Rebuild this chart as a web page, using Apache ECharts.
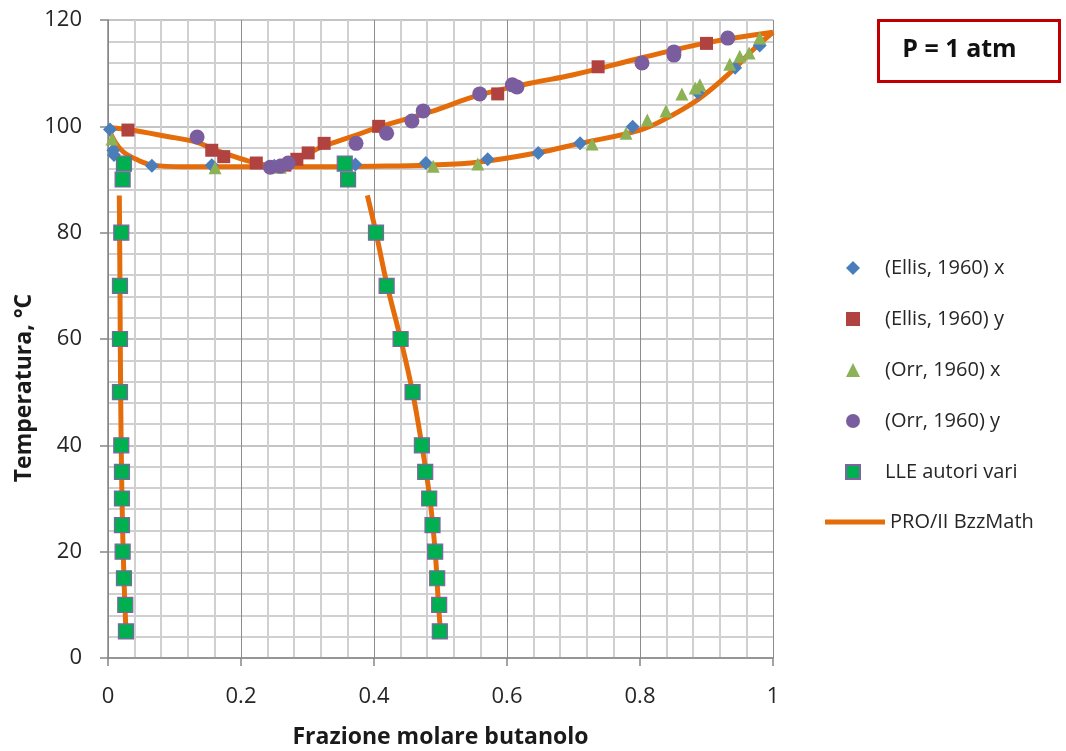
<!DOCTYPE html>
<html>
<head>
<meta charset="utf-8">
<title>Butanolo - acqua, P = 1 atm</title>
<script src="https://cdn.jsdelivr.net/npm/echarts@6/dist/echarts.min.js"></script>
<style>
  html, body { margin: 0; padding: 0; background: #fff; }
  #chart { width: 1066px; height: 751px; }
</style>
</head>
<body>
<div id="chart"></div>
<script>
// dati: [frazione molare butanolo, temperatura °C]
const ellisX = [
    [0.003, 99.4], [0.008, 95.5], [0.009, 94.6], [0.066, 92.6], [0.156, 92.7],
    [0.25, 92.6], [0.372, 92.8], [0.478, 93.1], [0.571, 93.8], [0.647, 95.0],
    [0.710, 96.8], [0.789, 99.9], [0.887, 106.3], [0.943, 111.0], [0.980, 115.2]
]
const ellisY = [
    [0.030, 99.3], [0.156, 95.5], [0.174, 94.3], [0.223, 93.1], [0.266, 92.7],
    [0.284, 93.8], [0.301, 95.0], [0.325, 96.8], [0.407, 100.0], [0.586, 106.1],
    [0.737, 111.2], [0.900, 115.6]
]
const orrX = [
    [0.006, 97.6], [0.161, 92.2], [0.259, 92.3], [0.489, 92.5], [0.556, 92.9],
    [0.728, 96.7], [0.779, 98.7], [0.811, 101.2], [0.839, 102.9], [0.863, 106.1],
    [0.883, 107.2], [0.890, 107.8], [0.935, 111.7], [0.950, 113.2], [0.964, 113.8],
    [0.980, 116.6]
]
const orrY = [
    [0.134, 98.0], [0.244, 92.3], [0.259, 92.5], [0.271, 93.1], [0.373, 96.8],
    [0.419, 98.7], [0.457, 101.0], [0.474, 102.9], [0.559, 106.1], [0.608, 107.8],
    [0.615, 107.4], [0.803, 111.9], [0.851, 114.0], [0.851, 113.4], [0.932, 116.6]
]
const lleData = [
    [0.024, 93], [0.022, 90], [0.020, 80], [0.018, 70], [0.018, 60], [0.018, 50],
    [0.020, 40], [0.021, 35], [0.021, 30], [0.021, 25], [0.022, 20], [0.024, 15],
    [0.026, 10], [0.027, 5],
    [0.356, 93], [0.361, 90], [0.403, 80], [0.419, 70], [0.440, 60], [0.458, 50],
    [0.472, 40], [0.477, 35], [0.483, 30], [0.488, 25], [0.492, 20], [0.495, 15],
    [0.498, 10], [0.499, 5]
]

// curve del modello PRO/II BzzMath
const dewCurve = [
    [0.0, 99.8], [0.03, 99.4], [0.089, 98.1], [0.134, 97.0], [0.156, 95.8],
    [0.188, 94.4], [0.223, 93.1], [0.25, 92.6], [0.266, 92.7], [0.284, 93.7],
    [0.301, 94.9], [0.325, 96.3], [0.37, 98.2], [0.406, 99.8], [0.484, 102.7],
    [0.559, 105.9], [0.635, 108.1], [0.70, 109.7], [0.8, 112.8], [0.9, 115.7],
    [1.0, 117.7]
]
const bubbleCurve = [
    [0.0, 99.8], [0.011, 97.0], [0.023, 95.2], [0.044, 93.7], [0.068, 92.7],
    [0.113, 92.4], [0.2, 92.4], [0.3, 92.4], [0.4, 92.5], [0.48, 92.7],
    [0.559, 93.3], [0.645, 95.0], [0.71, 96.8], [0.8, 99.3], [0.841, 101.6],
    [0.89, 105.3], [0.94, 110.6], [0.97, 114.4], [1.0, 117.7]
]
const lleLeft = [
    [0.017, 87], [0.018, 70], [0.019, 50], [0.021, 30], [0.024, 15], [0.027, 5]
]
const lleRight = [
    [0.390, 87], [0.403, 80], [0.420, 70], [0.440, 60], [0.458, 50], [0.472, 40],
    [0.484, 30], [0.492, 20], [0.497, 10], [0.500, 5]
]

const xTicks = { min: 0, max: 1, interval: 0.2 }
const yTicks = { min: 0, max: 120, interval: 20 }

const markerNames = ['(Ellis, 1960) x', '(Ellis, 1960) y', '(Orr, 1960) x', '(Orr, 1960) y', 'LLE autori vari']
const LINE_NAME = 'PRO/II BzzMath'

const FONT = '"Open Sans", "DejaVu Sans", sans-serif'
const LINE_COLOR = '#E46C0A'

const chart = echarts.init(document.getElementById('chart'))

// serie di linea del modello (stesso nome -> una voce in legenda)
const modelLine = (data) => ({
    name: LINE_NAME,
    type: 'line',
    data: data,
    smooth: 0.4,
    symbol: 'none',
    z: 1,
    lineStyle: { color: LINE_COLOR, width: 5 },
    itemStyle: { color: LINE_COLOR }
})

const markerSeries = (name, data, symbol, size, color, border) => ({
    name: name,
    type: 'scatter',
    data: data,
    symbol: symbol,
    symbolSize: size,
    z: 3,
    itemStyle: {
        color: color,
        borderColor: border || color,
        borderWidth: border ? 1.2 : 0,
        opacity: 1
    }
})

const legendText = { fontFamily: FONT, fontSize: 20, color: '#262626', lineHeight: 22 }

const option = {
    backgroundColor: '#fff',
    animation: false,
    grid: { left: 108, right: 293, top: 20, bottom: 93, containLabel: false, outerBoundsMode: 'none' },
    xAxis: {
        type: 'value',
        min: xTicks.min,
        max: xTicks.max,
        interval: xTicks.interval,
        name: 'Frazione molare butanolo',
        nameLocation: 'middle',
        nameGap: 68,
        nameMoveOverlap: false,
        nameTextStyle: { fontFamily: FONT, fontWeight: 'bold', fontSize: 23, color: '#1a1a1a' },
        axisLine: { show: true, onZero: false, lineStyle: { color: '#868686', width: 1.5 } },
        axisTick: { show: true, length: 8, lineStyle: { color: '#868686', width: 1.5 } },
        axisLabel: { fontFamily: FONT, fontSize: 22, color: '#262626', margin: 28 },
        splitLine: { show: true, lineStyle: { color: '#8c8c8c', width: 1 } },
        minorTick: { show: false, splitNumber: 5 },
        minorSplitLine: { show: true, lineStyle: { color: '#d0d0d0', width: 2 } }
    },
    yAxis: {
        type: 'value',
        min: yTicks.min,
        max: yTicks.max,
        interval: yTicks.interval,
        name: 'Temperatura, °C',
        nameLocation: 'middle',
        nameGap: 72,
        nameMoveOverlap: false,
        nameTextStyle: {
            fontFamily: FONT, fontWeight: 'bold', fontSize: 23, color: '#1a1a1a',
            padding: [0, 98, 0, 0]
        },
        axisLine: { show: true, lineStyle: { color: '#868686', width: 1.5 } },
        axisTick: { show: true, length: 8, lineStyle: { color: '#868686', width: 1.5 } },
        axisLabel: { fontFamily: FONT, fontSize: 22, color: '#262626', margin: 26 },
        splitLine: { show: true, lineStyle: { color: '#c4c4c4', width: 2 } },
        minorTick: { show: false, splitNumber: 5 },
        minorSplitLine: { show: true, lineStyle: { color: '#d0d0d0', width: 2 } }
    },
    legend: [
        {
            // marcatori
            orient: 'vertical',
            left: 840,
            top: 252,
            itemWidth: 14,
            itemHeight: 14,
            itemGap: 29,
            textStyle: Object.assign({ padding: [0, 0, 0, 20] }, legendText),
            data: markerNames
        },
        {
            // linea del modello
            orient: 'vertical',
            left: 820,
            top: 506,
            itemWidth: 60,
            itemHeight: 5,
            textStyle: Object.assign({ padding: [0, 0, 0, 0] }, legendText),
            data: [{ name: LINE_NAME, icon: 'path://M0 0H60V5H0Z' }]
        }
    ],
    graphic: [
        {
            type: 'group',
            left: 877,
            top: 19,
            children: [
                {
                    type: 'rect',
                    shape: { x: 0, y: 0, width: 181, height: 61 },
                    style: { fill: '#fff', stroke: '#C00000', lineWidth: 3 }
                },
                {
                    type: 'text',
                    x: 81,
                    y: 29,
                    style: {
                        text: 'P = 1 atm',
                        fontFamily: FONT,
                        fontWeight: 'bold',
                        fontSize: 25,
                        fill: '#111',
                        align: 'center',
                        verticalAlign: 'middle'
                    }
                }
            ]
        }
    ],
    series: [
        modelLine(dewCurve),
        modelLine(bubbleCurve),
        modelLine(lleLeft),
        modelLine(lleRight),
        markerSeries(markerNames[0], ellisX, 'diamond', 14, '#4A7EBB'),
        markerSeries(markerNames[1], ellisY, 'rect', 13, '#B0433F'),
        markerSeries(markerNames[2], orrX, 'triangle', 13, '#8DB255'),
        markerSeries(markerNames[3], orrY, 'circle', 15, '#7A5D9E'),
        markerSeries(markerNames[4], lleData, 'rect', 15, '#00B050', '#8064A2')
    ]
}

chart.setOption(option)
window.addEventListener('resize', () => chart.resize())
</script>
</body>
</html>
